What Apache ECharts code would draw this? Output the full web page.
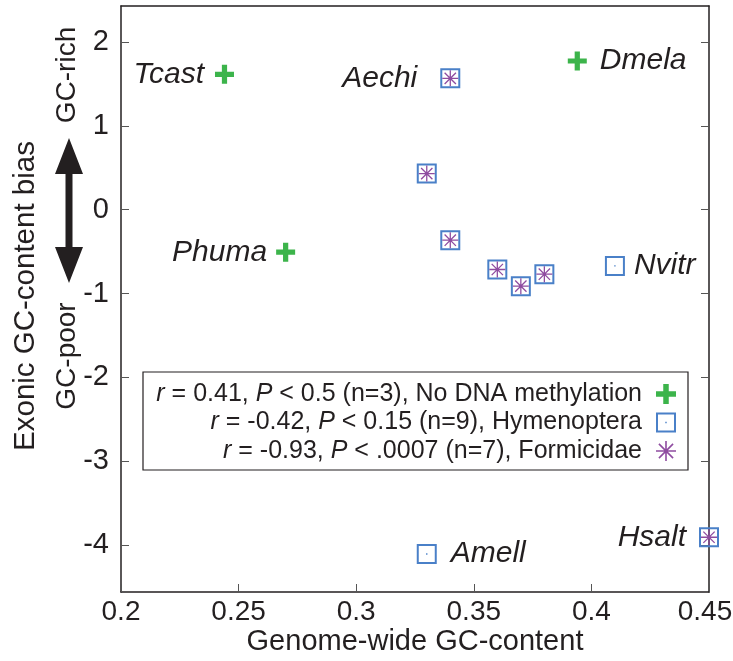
<!DOCTYPE html>
<html>
<head>
<meta charset="utf-8">
<script src="https://cdn.jsdelivr.net/npm/echarts@6/dist/echarts.min.js"></script>
<style>
  html, body { margin: 0; padding: 0; background: #fff; }
  #chart { width: 733px; height: 661px; }
</style>
</head>
<body>
<div id="chart"></div>
<script>
// Species without DNA methylation
const noMethNames = ['Tcast', 'Dmela', 'Phuma'];
const noMethX = [0.244, 0.394, 0.270];
const noMethY = [1.615, 1.774, -0.507];

// Hymenoptera (includes the ants)
const hymNames = ['Aechi', '', '', '', '', '', 'Nvitr', 'Amell', 'Hsalt'];
const hymX = [0.340, 0.330, 0.340, 0.360, 0.370, 0.380, 0.410, 0.330, 0.450];
const hymY = [1.567, 0.431, -0.364, -0.713, -0.912, -0.769, -0.670, -4.106, -3.907];

// Formicidae (ants)
const formX = [0.340, 0.330, 0.340, 0.360, 0.370, 0.380, 0.450];
const formY = [1.567, 0.431, -0.364, -0.713, -0.912, -0.769, -3.907];

// Correlation statistics per group
const groupNames = ['No DNA methylation', 'Hymenoptera', 'Formicidae'];
const rValues = ['0.41', '-0.42', '-0.93'];
const pValues = ['0.5', '0.15', '.0007'];
const nCounts = [3, 9, 7];

// Axis ticks
const xTicks = [0.2, 0.25, 0.3, 0.35, 0.4, 0.45];
const yTicks = [-4, -3, -2, -1, 0, 1, 2];

const FONT = "'Liberation Sans', Helvetica, Arial, sans-serif";
const INK = '#231f20';
const GREEN = '#3cb44b';
const BLUE = '#4a80c8';
const PURPLE = '#8f4ca0';

// Marker shapes (filled outlines in a 20x20 box)
const PLUS = 'path://M7.25,0H12.75V7.25H20V12.75H12.75V20H7.25V12.75H0V7.25H7.25Z';
const SQUARE = 'path://M0,0H20V20H0Z M2,2V18H18V2Z M9.3,9.3H10.7V10.7H9.3Z';
const STAR = 'path://M9.2,0H10.8V20H9.2Z M0,9.2H20V10.8H0Z ' +
  'M3.5,2.36L17.64,16.5L16.5,17.64L2.36,3.5Z M17.64,3.5L3.5,17.64L2.36,16.5L16.5,2.36Z';

// Name label placement: side and distance from the marker edge
const labelSide = {
  Tcast: ['left', 11], Dmela: ['right', 13], Phuma: ['left', 9],
  Aechi: ['left', 23], Nvitr: ['right', 9], Amell: ['right', 14], Hsalt: ['left', 13]
};

function points(xs, ys, names) {
  return xs.map((x, i) => {
    const item = { value: [x, ys[i]] };
    const nm = names ? names[i] : '';
    if (nm) {
      item.name = nm;
      item.label = {
        show: true, formatter: nm,
        position: labelSide[nm][0], distance: labelSide[nm][1],
        fontSize: 30, fontStyle: 'italic', color: INK, fontFamily: FONT
      };
    }
    return item;
  });
}

const legendText = groupNames.map((g, i) =>
  '{i|r} = ' + rValues[i] + ', {i|P} < ' + pValues[i] + ' (n=' + nCounts[i] + '), ' + g);

function legendFor(i, top) {
  return {
    data: [groupNames[i]],
    right: 57, top: top, z: 10,
    itemWidth: 20, itemHeight: 20, padding: 0,
    align: 'right', selectedMode: false,
    formatter: () => legendText[i],
    textStyle: {
      fontSize: 25, fontFamily: FONT, color: INK, lineHeight: 26,
      padding: [0, 9, 0, 0],
      rich: { i: { fontSize: 25, fontFamily: FONT, fontStyle: 'italic', color: INK, lineHeight: 26 } }
    }
  };
}

const frameLine = { show: true, onZero: false, lineStyle: { color: INK, width: 1.5 } };
const lastX = xTicks[xTicks.length - 1];

const chart = echarts.init(document.getElementById('chart'), null, { renderer: 'canvas' });

chart.setOption({
  backgroundColor: '#fff',
  animation: false,
  textStyle: { fontFamily: FONT },
  grid: { left: 121, right: 24, top: 6, bottom: 69, containLabel: false, outerBoundsMode: 'none' },
  xAxis: [{
    type: 'value', position: 'bottom', min: 0.2, max: 0.45,
    name: 'Genome-wide GC-content', nameLocation: 'middle', nameGap: 35, nameMoveOverlap: false,
    nameTextStyle: { fontSize: 29, color: INK, fontFamily: FONT },
    axisLine: frameLine,
    axisTick: { show: true, inside: true, length: 8, customValues: xTicks, lineStyle: { color: '#555', width: 1 } },
    axisLabel: { fontSize: 28, color: INK, margin: 6, customValues: xTicks,
      formatter: v => {
        const s = String(+v.toFixed(2));
        return Math.abs(v - lastX) < 1e-9 ? '{e|' + s + '}' : s;
      },
      rich: { e: { fontSize: 28, color: INK, fontFamily: FONT, padding: [0, 8, 0, 0] } } },
    splitLine: { show: false }
  }, {
    type: 'value', position: 'top', min: 0.2, max: 0.45,
    axisLine: frameLine,
    axisTick: { show: false }, axisLabel: { show: false }, splitLine: { show: false }
  }],
  yAxis: [{
    type: 'value', position: 'left', min: -4.56, max: 2.43,
    axisLine: frameLine,
    axisTick: { show: true, inside: true, length: 8, customValues: yTicks, lineStyle: { color: '#555', width: 1 } },
    axisLabel: { fontSize: 29, color: INK, margin: 12, customValues: yTicks },
    splitLine: { show: false }
  }, {
    type: 'value', position: 'right', min: -4.56, max: 2.43,
    axisLine: frameLine,
    axisTick: { show: true, inside: true, length: 8, customValues: yTicks, lineStyle: { color: '#555', width: 1 } },
    axisLabel: { show: false }, splitLine: { show: false }
  }],
  legend: [legendFor(0, 381), legendFor(1, 409.5), legendFor(2, 438)],
  graphic: [
    // legend frame
    { type: 'rect', z: 3, shape: { x: 143, y: 372, width: 545, height: 98 },
      style: { fill: '#fff', stroke: INK, lineWidth: 1.2 } },
    // y-axis title
    { type: 'text', x: 26, y: 296, rotation: Math.PI / 2,
      style: { text: 'Exonic GC-content bias', fontSize: 29.5, fontFamily: FONT, fill: INK,
        align: 'center', verticalAlign: 'middle' } },
    { type: 'text', x: 67, y: 75, rotation: Math.PI / 2,
      style: { text: 'GC-rich', fontSize: 28, fontFamily: FONT, fill: INK,
        align: 'center', verticalAlign: 'middle' } },
    { type: 'text', x: 67, y: 356, rotation: Math.PI / 2,
      style: { text: 'GC-poor', fontSize: 28, fontFamily: FONT, fill: INK,
        align: 'center', verticalAlign: 'middle' } },
    // double-headed arrow between the two annotations
    { type: 'polygon',
      shape: { points: [[69, 138], [83, 174], [72.5, 174], [72.5, 247], [83, 247], [69, 283],
                        [55, 247], [65.5, 247], [65.5, 174], [55, 174]] },
      style: { fill: INK } }
  ],
  series: [{
    name: groupNames[0], type: 'scatter', symbol: PLUS, symbolSize: 19,
    itemStyle: { color: GREEN, opacity: 1 },
    data: points(noMethX, noMethY, noMethNames), z: 3
  }, {
    name: groupNames[1], type: 'scatter', symbol: SQUARE, symbolSize: 20,
    itemStyle: { color: BLUE, opacity: 1 },
    data: points(hymX, hymY, hymNames), z: 3
  }, {
    name: groupNames[2], type: 'scatter', symbol: STAR, symbolSize: 16,
    itemStyle: { color: PURPLE, opacity: 1 },
    data: points(formX, formY, null), z: 4
  }]
});
</script>
</body>
</html>
